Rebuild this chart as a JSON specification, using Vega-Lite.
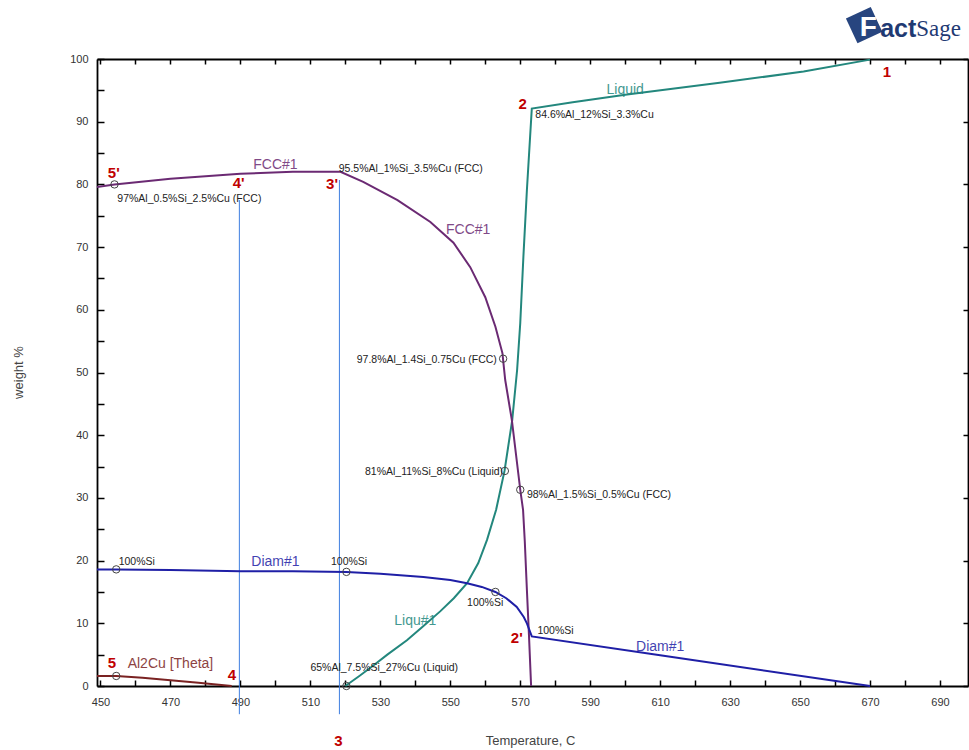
{
  "$schema": "https://vega.github.io/schema/vega-lite/v6.json",
  "width": 871,
  "height": 627,
  "autosize": "none",
  "padding": {"left": 97, "top": 59, "right": 1, "bottom": 64},
  "background": "white",
  "config": {
    "view": {"stroke": null},
    "axis": {"grid": false, "domainColor": "#000", "tickColor": "#000", "labelFont": "Liberation Sans", "labelFontSize": 11, "labelColor": "#333", "titleFont": "Liberation Sans", "titleFontWeight": "normal", "titleColor": "#444", "titleFontSize": 13},
    "text": {"font": "Liberation Sans"}
  },
  "datasets": {
    "curves": [
      {"phase": "Liquid", "o": 1, "x": 520, "y": 0},
      {"phase": "Liquid", "o": 2, "x": 524, "y": 1.6},
      {"phase": "Liquid", "o": 3, "x": 528.1, "y": 3.3},
      {"phase": "Liquid", "o": 4, "x": 532, "y": 5.0},
      {"phase": "Liquid", "o": 5, "x": 537.6, "y": 7.3},
      {"phase": "Liquid", "o": 6, "x": 542, "y": 9.4},
      {"phase": "Liquid", "o": 7, "x": 547.1, "y": 11.9},
      {"phase": "Liquid", "o": 8, "x": 551, "y": 14.0},
      {"phase": "Liquid", "o": 9, "x": 554.8, "y": 16.4},
      {"phase": "Liquid", "o": 10, "x": 558, "y": 19.6},
      {"phase": "Liquid", "o": 11, "x": 560.5, "y": 23.3},
      {"phase": "Liquid", "o": 12, "x": 563.1, "y": 28.1},
      {"phase": "Liquid", "o": 13, "x": 565.5, "y": 34.3},
      {"phase": "Liquid", "o": 14, "x": 567.7, "y": 42.4},
      {"phase": "Liquid", "o": 15, "x": 569.1, "y": 50.4},
      {"phase": "Liquid", "o": 16, "x": 570, "y": 57.9},
      {"phase": "Liquid", "o": 17, "x": 570.9, "y": 68.5},
      {"phase": "Liquid", "o": 18, "x": 571.9, "y": 79.1},
      {"phase": "Liquid", "o": 19, "x": 573.3, "y": 92.1},
      {"phase": "Liquid", "o": 20, "x": 585, "y": 93.1},
      {"phase": "Liquid", "o": 21, "x": 600, "y": 94.3},
      {"phase": "Liquid", "o": 22, "x": 627, "y": 96.2},
      {"phase": "Liquid", "o": 23, "x": 651, "y": 98.0},
      {"phase": "Liquid", "o": 24, "x": 670, "y": 99.9},
      {"phase": "FCC", "o": 1, "x": 449, "y": 79.6},
      {"phase": "FCC", "o": 2, "x": 454, "y": 80.0},
      {"phase": "FCC", "o": 3, "x": 470, "y": 80.9},
      {"phase": "FCC", "o": 4, "x": 490, "y": 81.7},
      {"phase": "FCC", "o": 5, "x": 505, "y": 82.0},
      {"phase": "FCC", "o": 6, "x": 518.6, "y": 82.0},
      {"phase": "FCC", "o": 7, "x": 525.1, "y": 80.4},
      {"phase": "FCC", "o": 8, "x": 534.9, "y": 77.5},
      {"phase": "FCC", "o": 9, "x": 544.3, "y": 74.0},
      {"phase": "FCC", "o": 10, "x": 550.9, "y": 70.7},
      {"phase": "FCC", "o": 11, "x": 555.7, "y": 66.8},
      {"phase": "FCC", "o": 12, "x": 560, "y": 62.0},
      {"phase": "FCC", "o": 13, "x": 562.9, "y": 57.3},
      {"phase": "FCC", "o": 14, "x": 564.9, "y": 53.1},
      {"phase": "FCC", "o": 15, "x": 565.7, "y": 48.8},
      {"phase": "FCC", "o": 16, "x": 567.6, "y": 42.4},
      {"phase": "FCC", "o": 17, "x": 570, "y": 31.3},
      {"phase": "FCC", "o": 18, "x": 570.8, "y": 28.1},
      {"phase": "FCC", "o": 19, "x": 571.3, "y": 23},
      {"phase": "FCC", "o": 20, "x": 571.9, "y": 15.3},
      {"phase": "FCC", "o": 21, "x": 572.5, "y": 8},
      {"phase": "FCC", "o": 22, "x": 573.1, "y": 0},
      {"phase": "Diam", "o": 1, "x": 449, "y": 18.6},
      {"phase": "Diam", "o": 2, "x": 454.5, "y": 18.6},
      {"phase": "Diam", "o": 3, "x": 470, "y": 18.5},
      {"phase": "Diam", "o": 4, "x": 490, "y": 18.3},
      {"phase": "Diam", "o": 5, "x": 505, "y": 18.3},
      {"phase": "Diam", "o": 6, "x": 520.3, "y": 18.2},
      {"phase": "Diam", "o": 7, "x": 530, "y": 17.9},
      {"phase": "Diam", "o": 8, "x": 542.3, "y": 17.4},
      {"phase": "Diam", "o": 9, "x": 550, "y": 16.9},
      {"phase": "Diam", "o": 10, "x": 554.8, "y": 16.4},
      {"phase": "Diam", "o": 11, "x": 559, "y": 15.8},
      {"phase": "Diam", "o": 12, "x": 562.9, "y": 15.0},
      {"phase": "Diam", "o": 13, "x": 566, "y": 14.0},
      {"phase": "Diam", "o": 14, "x": 569, "y": 12.6},
      {"phase": "Diam", "o": 15, "x": 571, "y": 11.0},
      {"phase": "Diam", "o": 16, "x": 571.9, "y": 10.0},
      {"phase": "Diam", "o": 17, "x": 573.3, "y": 7.9},
      {"phase": "Diam", "o": 18, "x": 610, "y": 4.9},
      {"phase": "Diam", "o": 19, "x": 670, "y": 0},
      {"phase": "Al2Cu", "o": 1, "x": 449, "y": 1.6},
      {"phase": "Al2Cu", "o": 2, "x": 454.5, "y": 1.6},
      {"phase": "Al2Cu", "o": 3, "x": 462, "y": 1.3},
      {"phase": "Al2Cu", "o": 4, "x": 470, "y": 0.9},
      {"phase": "Al2Cu", "o": 5, "x": 478, "y": 0.5},
      {"phase": "Al2Cu", "o": 6, "x": 487.5, "y": 0}
    ],
    "circles": [
      {"x": 454, "y": 80.0},
      {"x": 454.5, "y": 18.6},
      {"x": 454.5, "y": 1.6},
      {"x": 520.3, "y": 18.2},
      {"x": 520.3, "y": 0},
      {"x": 565.1, "y": 52.2},
      {"x": 565.6, "y": 34.3},
      {"x": 570, "y": 31.3},
      {"x": 562.9, "y": 15.0}
    ],
    "notes": [
      {"t": "84.6%Al_12%Si_3.3%Cu", "x": 574.3, "y": 91.1, "al": "left"},
      {"t": "95.5%Al_1%Si_3.5%Cu (FCC)", "x": 518.1, "y": 82.4, "al": "left"},
      {"t": "97%Al_0.5%Si_2.5%Cu (FCC)", "x": 454.8, "y": 77.6, "al": "left"},
      {"t": "98%Al_1.5%Si_0.5%Cu (FCC)", "x": 571.9, "y": 30.4, "al": "left"},
      {"t": "100%Si", "x": 455.2, "y": 19.8, "al": "left"},
      {"t": "100%Si", "x": 515.9, "y": 19.8, "al": "left"},
      {"t": "100%Si", "x": 554.8, "y": 13.3, "al": "left"},
      {"t": "100%Si", "x": 574.9, "y": 8.7, "al": "left"},
      {"t": "65%Al_7.5%Si_27%Cu (Liquid)", "x": 510, "y": 2.9, "al": "left"},
      {"t": "97.8%Al_1.4Si_0.75Cu (FCC)", "x": 563.3, "y": 52.0, "al": "right"},
      {"t": "81%Al_11%Si_8%Cu (Liquid)", "x": 565.1, "y": 34.2, "al": "right"}
    ],
    "phases": [
      {"t": "Liquid", "phase": "Liquid", "x": 600, "y": 95.1},
      {"t": "FCC#1", "phase": "FCC", "x": 500, "y": 83.1},
      {"t": "FCC#1", "phase": "FCC", "x": 555.1, "y": 72.7},
      {"t": "Diam#1", "phase": "Diam", "x": 500, "y": 19.8},
      {"t": "Diam#1", "phase": "Diam", "x": 610, "y": 6.2},
      {"t": "Liqu#1", "phase": "Liquid", "x": 540, "y": 10.3},
      {"t": "Al2Cu [Theta]", "phase": "Al2Cu", "x": 470, "y": 3.5}
    ],
    "reds": [
      {"t": "1", "x": 674.8, "y": 98.0},
      {"t": "2", "x": 570.7, "y": 92.8},
      {"t": "5'", "x": 453.8, "y": 81.8},
      {"t": "4'", "x": 489.5, "y": 80.3},
      {"t": "3'", "x": 516.2, "y": 80.0},
      {"t": "5", "x": 453.3, "y": 3.6},
      {"t": "4", "x": 487.6, "y": 1.75},
      {"t": "2'", "x": 569, "y": 7.6},
      {"t": "3", "x": 518, "y": -8.8}
    ],
    "vlines": [
      {"x": 489.7, "y": 77.5, "y2": -4.5},
      {"x": 518.3, "y": 80.7, "y2": -4.5}
    ],
    "logo": [
      {"x": 668.3, "y": 105.4}
    ]
  },
  "encoding": {
    "x": {"field": "x", "type": "quantitative", "scale": {"domain": [449, 698], "nice": false, "zero": false}, "axis": null},
    "y": {"field": "y", "type": "quantitative", "scale": {"domain": [0, 100], "nice": false, "zero": false}, "axis": null}
  },
  "resolve": {"axis": {"x": "independent", "y": "independent"}},
  "layer": [
    {
      "data": {"name": "vlines"},
      "mark": {"type": "rule", "color": "#3f7fe0", "strokeWidth": 1},
      "encoding": {
        "x": {"field": "x", "type": "quantitative", "scale": {"domain": [449, 698], "nice": false, "zero": false},
          "axis": {"orient": "bottom", "values": [450,460,470,480,490,500,510,520,530,540,550,560,570,580,590,600,610,620,630,640,650,660,670,680,690],
            "labelExpr": "datum.value % 20 == 10 ? datum.label : ''", "labelOverlap": false, "labelFlush": false,
            "tickSize": -6, "tickWidth": 1.5, "domainWidth": 1.8, "labelPadding": 16,
            "title": "Temperature, C", "titleX": 433, "titleY": 54, "titleBaseline": "middle", "titleAlign": "center"}},
        "y": {"field": "y", "type": "quantitative", "scale": {"domain": [0, 100], "nice": false, "zero": false},
          "axis": {"orient": "left", "values": [0,5,10,15,20,25,30,35,40,45,50,55,60,65,70,75,80,85,90,95,100],
            "labelExpr": "datum.value % 10 == 0 ? datum.label : ''", "labelOverlap": false, "labelFlush": false,
            "tickSize": -7, "tickWidth": 1.5, "domainWidth": 1.8, "labelPadding": 16,
            "title": "weight %", "titleX": -79, "titleY": 313, "titleBaseline": "middle", "titleAlign": "center"}},
        "y2": {"field": "y2"}
      }
    },
    {
      "data": {"name": "curves"},
      "mark": {"type": "line", "strokeWidth": 2},
      "encoding": {
        "x": {"field": "x", "type": "quantitative", "scale": {"domain": [449, 698], "nice": false, "zero": false},
          "axis": {"orient": "top", "values": [450,460,470,480,490,500,510,520,530,540,550,560,570,580,590,600,610,620,630,640,650,660,670,680,690],
            "labels": false, "tickSize": -5, "tickWidth": 1.5, "domainWidth": 1.8, "title": null}},
        "y": {"field": "y", "type": "quantitative", "scale": {"domain": [0, 100], "nice": false, "zero": false},
          "axis": {"orient": "right", "values": [0,10,20,30,40,50,60,70,80,90,100],
            "labels": false, "tickSize": -5, "tickWidth": 1.5, "domainWidth": 1.8, "title": null}},
        "order": {"field": "o", "type": "quantitative"},
        "detail": {"field": "phase"},
        "color": {"field": "phase", "type": "nominal", "scale": {"domain": ["Liquid", "FCC", "Diam", "Al2Cu"], "range": ["#23877d", "#6b2a73", "#1f1fa6", "#7a2222"]}, "legend": null}
      }
    },
    {
      "data": {"name": "circles"},
      "mark": {"type": "point", "shape": "circle", "filled": false, "stroke": "#444", "strokeWidth": 1, "size": 55, "opacity": 1}
    },
    {
      "data": {"name": "notes"},
      "transform": [{"filter": "datum.al == 'left'"}],
      "mark": {"type": "text", "align": "left", "baseline": "middle", "fontSize": 10.5, "color": "#222"},
      "encoding": {"text": {"field": "t"}}
    },
    {
      "data": {"name": "notes"},
      "transform": [{"filter": "datum.al == 'right'"}],
      "mark": {"type": "text", "align": "right", "baseline": "middle", "fontSize": 10.5, "color": "#222"},
      "encoding": {"text": {"field": "t"}}
    },
    {
      "data": {"name": "phases"},
      "mark": {"type": "text", "align": "center", "baseline": "middle", "fontSize": 14, "opacity": 0.85},
      "encoding": {"text": {"field": "t"}, "color": {"field": "phase", "type": "nominal", "legend": null}}
    },
    {
      "data": {"name": "reds"},
      "mark": {"type": "text", "align": "center", "baseline": "middle", "fontSize": 15, "fontWeight": "bold", "color": "#c00000"},
      "encoding": {"text": {"field": "t"}}
    },
    {
      "data": {"name": "logo"},
      "mark": {"type": "point", "shape": "diamond", "filled": true, "color": "#27457f", "size": 1500, "opacity": 1, "angle": 20}
    },
    {
      "data": {"values": [{"x": 669.5, "y": 105.0, "t": "F"}]},
      "mark": {"type": "text", "align": "center", "baseline": "middle", "fontSize": 28, "fontWeight": "bold", "color": "white"},
      "encoding": {"text": {"field": "t"}}
    },
    {
      "data": {"values": [{"x": 672.9, "y": 104.8, "t": "act"}]},
      "mark": {"type": "text", "align": "left", "baseline": "middle", "fontSize": 25, "fontWeight": "bold", "color": "#1f3a73"},
      "encoding": {"text": {"field": "t"}}
    },
    {
      "data": {"values": [{"x": 683.2, "y": 104.8, "t": "Sage"}]},
      "mark": {"type": "text", "align": "left", "baseline": "middle", "fontSize": 23, "color": "#1f3a73", "font": "Liberation Sans Narrow"},
      "encoding": {"text": {"field": "t"}}
    }
  ]
}
